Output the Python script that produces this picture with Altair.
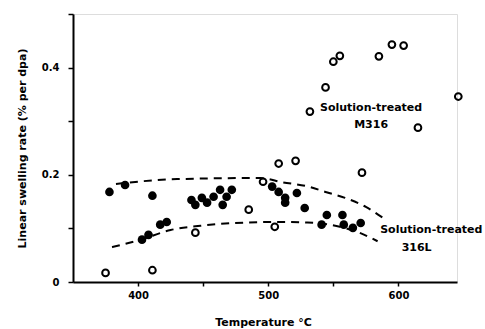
import altair as alt
import pandas as pd

# Solution-treated M316 (open circles)
m316_temp = [375, 411, 444, 485, 496, 505, 508, 521, 532, 544, 550, 555, 572, 585, 595, 604, 615, 646]
m316_rate = [0.017, 0.022, 0.092, 0.135, 0.187, 0.103, 0.221, 0.226, 0.318, 0.363, 0.411, 0.422,
             0.204, 0.421, 0.443, 0.441, 0.288, 0.346]

# Solution-treated 316L (filled circles)
l316_temp = [378, 390, 411, 403, 408, 417, 422, 441, 444, 449, 453, 458, 463, 465, 468, 472,
             503, 508, 513, 513, 522, 528, 545, 541, 557, 558, 565, 571]
l316_rate = [0.168, 0.181, 0.161, 0.079, 0.088, 0.107, 0.112, 0.153, 0.144, 0.157, 0.148, 0.159,
             0.172, 0.144, 0.159, 0.172, 0.178, 0.168, 0.157, 0.148, 0.166, 0.138, 0.125, 0.107,
             0.125, 0.107, 0.101, 0.110]

# Dashed scatter-band envelopes
upper_temp = [383, 430, 494, 511, 531, 544, 559, 575, 588]
upper_rate = [0.183, 0.192, 0.194, 0.186, 0.178, 0.168, 0.157, 0.140, 0.120]
lower_temp = [380, 402, 425, 448, 484, 504, 530, 555, 570, 584]
lower_rate = [0.065, 0.079, 0.097, 0.105, 0.111, 0.112, 0.111, 0.103, 0.092, 0.076]

# Annotations
label_text = ["Solution-treated", "M316", "Solution-treated", "316L"]
label_temp = [579, 579, 586, 614]
label_rate = [0.325, 0.292, 0.097, 0.064]
label_align = ["center", "center", "left", "center"]

FONT = "DejaVu Sans"

m316 = pd.DataFrame({"t": m316_temp, "r": m316_rate})
l316 = pd.DataFrame({"t": l316_temp, "r": l316_rate})
upper = pd.DataFrame({"t": upper_temp, "r": upper_rate})
lower = pd.DataFrame({"t": lower_temp, "r": lower_rate})
labels = pd.DataFrame({"t": label_temp, "r": label_rate, "txt": label_text, "al": label_align})

xscale = alt.Scale(domain=[350, 645], nice=False, zero=False)
yscale = alt.Scale(domain=[0, 0.5], nice=False)

xaxis = alt.Axis(
    values=[400, 450, 500, 550, 600],
    labelExpr="datum.value % 100 == 0 ? datum.label : ''",
    title="Temperature °C",
    titleX=190, titleY=40, titleBaseline="middle", titleAlign="center",
    titleFont=FONT, titleFontSize=11, titleFontWeight="bold", titleColor="black",
    labelFont=FONT, labelFontSize=10, labelFontWeight="bold", labelColor="black",
    labelPadding=4, tickSize=4, tickWidth=1.5, tickColor="black",
    domainColor="black", domainWidth=2, grid=False,
)
yaxis = alt.Axis(
    values=[0, 0.1, 0.2, 0.3, 0.4, 0.5],
    labelExpr="datum.value == 0 ? '0' : (datum.value == 0.2 ? '0.2' : (datum.value == 0.4 ? '0.4' : ''))",
    title="Linear swelling rate (% per dpa)",
    titleX=-51, titleY=134, titleAngle=270, titleBaseline="middle", titleAlign="center",
    titleFont=FONT, titleFontSize=11, titleFontWeight="bold", titleColor="black",
    labelFont=FONT, labelFontSize=10, labelFontWeight="bold", labelColor="black",
    labelPadding=9, tickSize=5, tickWidth=1.5, tickColor="black",
    domainColor="black", domainWidth=2, grid=False,
)

base_x = alt.X("t:Q", scale=xscale, axis=xaxis)
base_y = alt.Y("r:Q", scale=yscale, axis=yaxis)

open_pts = alt.Chart(m316).mark_point(
    shape="circle", size=45, filled=False, stroke="black", strokeWidth=2,
    opacity=1, strokeOpacity=1, clip=False
).encode(x=base_x, y=base_y)

filled_pts = alt.Chart(l316).mark_circle(size=75, color="black", opacity=1).encode(
    x=alt.X("t:Q", scale=xscale), y=alt.Y("r:Q", scale=yscale)
)

dash = dict(color="black", strokeWidth=2, strokeDash=[8, 6], interpolate="monotone")
upper_line = alt.Chart(upper).mark_line(**dash).encode(
    x=alt.X("t:Q", scale=xscale), y=alt.Y("r:Q", scale=yscale)
)
lower_line = alt.Chart(lower).mark_line(**dash).encode(
    x=alt.X("t:Q", scale=xscale), y=alt.Y("r:Q", scale=yscale)
)

text_center = alt.Chart(labels[labels.al == "center"]).mark_text(
    font=FONT, fontSize=11, fontWeight="bold", color="black", align="center", baseline="middle"
).encode(x=alt.X("t:Q", scale=xscale), y=alt.Y("r:Q", scale=yscale), text="txt:N")
text_left = alt.Chart(labels[labels.al == "left"]).mark_text(
    font=FONT, fontSize=11, fontWeight="bold", color="black", align="left", baseline="middle"
).encode(x=alt.X("t:Q", scale=xscale), y=alt.Y("r:Q", scale=yscale), text="txt:N")

chart = alt.layer(upper_line, lower_line, filled_pts, open_pts, text_center, text_left).properties(
    width=384, height=268,
    autosize=alt.AutoSizeParams(type="none"),
    padding={"left": 73, "top": 14, "right": 28, "bottom": 47},
).configure_view(stroke=None).configure(background="white")

chart.save("out.html", embed_options={"renderer": "svg", "actions": False})
